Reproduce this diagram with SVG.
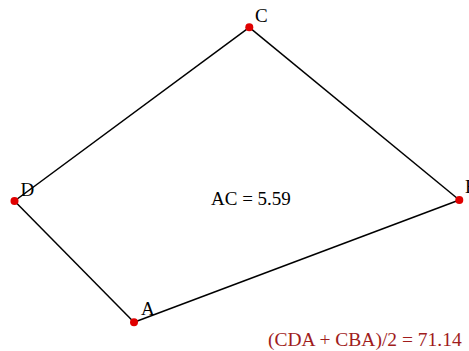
<svg xmlns="http://www.w3.org/2000/svg" width="469" height="351" viewBox="0 0 469 351">
<style>
.edge{stroke:#000;stroke-width:1.5;fill:none}
.pt{fill:#e00000}
.lbl{font-family:"Liberation Serif",serif;font-size:19px;fill:#000}
.res{font-family:"Liberation Serif",serif;font-size:19.5px;fill:#a01c1c}
</style>
<rect width="469" height="351" fill="#fff"/>
<g id="connectors">
<line class="edge" x1="249.3" y1="27.3" x2="459.3" y2="200"/>
<line class="edge" x1="459.3" y1="200" x2="134" y2="322.3"/>
<line class="edge" x1="134" y1="322.3" x2="14.5" y2="201"/>
<line class="edge" x1="14.5" y1="201" x2="249.3" y2="27.3"/>
</g>
<g id="C"><circle class="pt" cx="249.3" cy="27.3" r="4"/><text class="lbl" x="255" y="21.5">C</text></g>
<g id="B"><circle class="pt" cx="459.3" cy="200" r="4"/><text class="lbl" x="465" y="193">B</text></g>
<g id="D"><circle class="pt" cx="14.5" cy="201" r="4"/><text class="lbl" x="20.5" y="195.5">D</text></g>
<g id="A"><circle class="pt" cx="134" cy="322.3" r="4"/><text class="lbl" x="141" y="315">A</text></g>
<text class="lbl" x="211" y="205">AC = 5.59</text>
<text class="res" x="268" y="346">(CDA + CBA)/2 = 71.14</text>
</svg>
